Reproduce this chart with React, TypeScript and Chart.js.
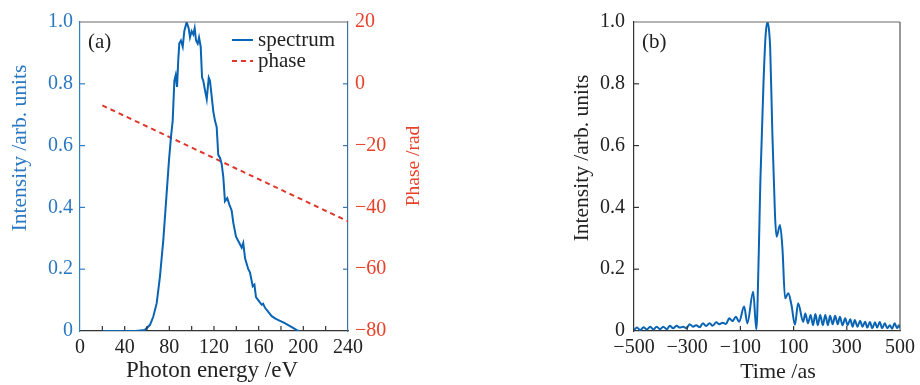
import React, { useEffect, useRef } from "react";
import { Chart, registerables } from "chart.js";

Chart.register(...registerables);

// ---------- data: panel (a) ----------
const energyEV = [
  20, 40, 50, 58, 62.7, 65.6, 68.7, 71.6, 74.6, 77.6,
  79.7, 81.5, 83.0, 84.5, 85.7, 86.9, 88.0, 88.9, 90.4, 92.0,
  93.4, 95.5, 97.3, 98.5, 100.0, 101.5, 102.7, 103.9, 105.4, 106.6,
  108.1, 109.3, 110.4, 111.9, 113.5, 115.3, 116.4, 117.9, 119.4, 120.9,
  122.4, 123.8, 125.4, 126.9, 128.3, 129.8, 131.9, 133.7, 135.8, 137.3,
  139.7, 142.7, 144.8, 146.2, 147.8, 150.7, 152.2, 154.7, 156.2, 157.6,
  160.6, 162.7, 164.0, 165.7, 168.6, 171.7, 175, 179.1, 183, 186.5,
  190, 194.1, 196,
];
const spectrumIntensity = [
  0, 0, 0, 0.003, 0.02, 0.046, 0.09, 0.176, 0.294, 0.446,
  0.553, 0.629, 0.68, 0.81, 0.828, 0.79, 0.877, 0.93, 0.94, 0.92,
  0.97, 1.0, 0.98, 0.95, 0.97, 0.96, 0.98, 0.94, 0.93, 0.95,
  0.92, 0.82, 0.81, 0.78, 0.75, 0.82, 0.81, 0.76, 0.71, 0.68,
  0.66, 0.57, 0.56, 0.54, 0.5, 0.42, 0.43, 0.41, 0.39, 0.35,
  0.305, 0.285, 0.27, 0.285, 0.235, 0.2, 0.19, 0.145, 0.15, 0.11,
  0.095, 0.085, 0.088, 0.075, 0.062, 0.048, 0.04, 0.033, 0.026, 0.019,
  0.012, 0.003, 0,
];
const phaseEnergyEV = [20, 240];
const phaseRad = [-7, -44.5];

const energyTickMarks = [0, 20, 40, 60, 80, 100, 120, 140, 160, 180, 200, 220, 240];
const energyTickLabels = [0, 40, 80, 120, 160, 200, 240];
const intensityTicks = [0, 0.2, 0.4, 0.6, 0.8, 1.0];
const phaseTicks = [-80, -60, -40, -20, 0, 20];

// ---------- data: panel (b) ----------
const timeAs = [
  -500, -489, -476, -464, -452, -439, -427, -415, -402, -390,
  -377, -365, -353, -340, -328, -315, -303, -291, -278, -266,
  -253, -241, -229, -216, -204, -191, -179, -167, -154, -142,
  -130, -117, -105, -86, -74, -52, -40, -31, -25, -13,
  -5, 2, 8, 12, 20, 30, 36, 49, 58, 68,
  80, 92, 105, 117, 136, 144, 154, 164, 173, 182,
  191, 200, 210, 219, 229, 237, 247, 256, 266, 274,
  284, 294, 303, 313, 322, 330, 340, 350, 359, 369,
  377, 387, 396, 406, 414, 424, 433, 443, 452, 462,
  470, 480, 489, 496, 500,
];
const pulseIntensity = [
  0.003, 0.011, 0.003, 0.012, 0.005, 0.014, 0.005, 0.014, 0.006, 0.014,
  0.006, 0.017, 0.009, 0.017, 0.011, 0.014, 0.009, 0.022, 0.014, 0.019,
  0.012, 0.025, 0.016, 0.025, 0.017, 0.028, 0.022, 0.027, 0.023, 0.041,
  0.032, 0.046, 0.03, 0.079, 0.025, 0.127, 0.005, 0.25, 0.483, 0.807,
  0.96, 1.0, 0.97, 0.915, 0.645, 0.376, 0.305, 0.343, 0.268, 0.106,
  0.122, 0.084, 0.02, 0.09, 0.03, 0.057, 0.025, 0.052, 0.019, 0.055,
  0.019, 0.052, 0.019, 0.052, 0.019, 0.049, 0.022, 0.049, 0.022, 0.046,
  0.019, 0.041, 0.019, 0.038, 0.014, 0.036, 0.014, 0.033, 0.014, 0.03,
  0.011, 0.029, 0.009, 0.028, 0.011, 0.029, 0.009, 0.025, 0.009, 0.019,
  0.007, 0.025, 0.009, 0.019, 0.01,
];
const timeTicks = [-500, -300, -100, 100, 300, 500];

// ---------- styles ----------
const SERIF = "'Liberation Serif', 'Times New Roman', serif";
const TICK_FONT = { family: SERIF, size: 20 };
const BLUE_LINE = "#0a64b4";
const BLUE_TEXT = "#2b78c2";
const BLUE_AXIS = "#2f7fc8";
const STEEL_AXIS = "#3b75a8";
const RED = "#e8412a";
const RED_LINE = "#e0362a";
const DARK = "#222222";
const GRAY = "#6a6a6a";

const minus = (v: number) => (v < 0 ? "\u2212" + Math.abs(v) : String(v));
const fmtInt = (v: number) => (v === 0 ? "0" : Number(v).toFixed(1));

type TickSpec = { id: string; color: string; side: "bottom" | "left" | "right" };
type TitleSpec = { text: string; x: number; y: number; size: number; color: string; vertical: boolean };

function makeFramePlugin(cfg: {
  top: string;
  right?: string;
  ticks: TickSpec[];
  titles: TitleSpec[];
  panel: string;
  legend?: boolean;
}) {
  return {
    id: "frame",
    afterDraw(chart: any) {
      const { ctx, chartArea: a } = chart;
      const len = 5;
      ctx.save();
      ctx.lineWidth = 1.2;
      const seg = (x1: number, y1: number, x2: number, y2: number) => {
        ctx.beginPath();
        ctx.moveTo(x1, y1);
        ctx.lineTo(x2, y2);
        ctx.stroke();
      };
      ctx.strokeStyle = cfg.top;
      seg(a.left, a.top, a.right, a.top);
      if (cfg.right) {
        ctx.strokeStyle = cfg.right;
        seg(a.right, a.top, a.right, a.bottom);
      }
      for (const t of cfg.ticks) {
        const s = chart.scales[t.id];
        ctx.strokeStyle = t.color;
        for (const tk of s.ticks) {
          const p = s.getPixelForValue(tk.value);
          if (t.side === "bottom") {
            if (p <= a.left + 1 || p >= a.right - 1) continue;
            seg(p, a.bottom, p, a.bottom - len);
          } else if (t.side === "left") {
            if (p <= a.top + 1 || p >= a.bottom - 1) continue;
            seg(a.left, p, a.left + len, p);
          } else {
            if (p <= a.top + 1 || p >= a.bottom - 1) continue;
            seg(a.right, p, a.right - len, p);
          }
        }
      }
      // axis titles
      for (const t of cfg.titles) {
        ctx.save();
        ctx.fillStyle = t.color;
        ctx.font = `${t.size}px ${SERIF}`;
        ctx.textAlign = "center";
        ctx.translate(t.x, t.y);
        if (t.vertical) {
          ctx.rotate(-Math.PI / 2);
          ctx.textBaseline = "middle";
        } else {
          ctx.textBaseline = "alphabetic";
        }
        ctx.fillText(t.text, 0, 0);
        ctx.restore();
      }
      // panel label
      ctx.fillStyle = DARK;
      ctx.font = `21px ${SERIF}`;
      ctx.textBaseline = "middle";
      ctx.textAlign = "left";
      ctx.fillText(cfg.panel, a.left + 8, a.top + 20);
      if (cfg.legend) {
        const lx = a.right - 116;
        const tx = a.right - 90;
        const y1 = a.top + 18;
        const y2 = a.top + 39;
        ctx.lineWidth = 2;
        ctx.strokeStyle = BLUE_LINE;
        seg(lx, y1, lx + 21, y1);
        ctx.strokeStyle = RED_LINE;
        ctx.setLineDash([5, 4]);
        seg(lx, y2, lx + 21, y2);
        ctx.setLineDash([]);
        ctx.fillStyle = DARK;
        ctx.font = `21px ${SERIF}`;
        ctx.fillText("spectrum", tx, y1);
        ctx.fillText("phase", tx, y2);
      }
      ctx.restore();
    },
  };
}

const noGrid = { drawOnChartArea: false, drawTicks: false };

function configA(): any {
  return {
    type: "line",
    data: {
      datasets: [
        {
          label: "spectrum",
          data: energyEV.map((e, i) => ({ x: e, y: spectrumIntensity[i] })),
          borderColor: BLUE_LINE,
          borderWidth: 2,
          pointRadius: 0,
          tension: 0,
          yAxisID: "y",
        },
        {
          label: "phase",
          data: phaseEnergyEV.map((e, i) => ({ x: e, y: phaseRad[i] })),
          borderColor: RED_LINE,
          borderWidth: 2,
          borderDash: [5, 4],
          pointRadius: 0,
          yAxisID: "y2",
        },
      ],
    },
    options: {
      responsive: false,
      animation: false,
      layout: { padding: { top: 22, left: 0, right: 0, bottom: 0 } },
      plugins: { legend: { display: false }, tooltip: { enabled: false } },
      scales: {
        x: {
          type: "linear",
          min: 0,
          max: 240,
          afterBuildTicks: (s: any) => {
            s.ticks = energyTickMarks.map((v) => ({ value: v }));
          },
          afterFit: (s: any) => {
            s.height = 54;
          },
          ticks: {
            autoSkip: false,
            maxRotation: 0,
            font: TICK_FONT,
            color: DARK,
            padding: 5,
            callback: (v: any) => (energyTickLabels.includes(Number(v)) ? String(v) : ""),
          },
          grid: noGrid,
          border: { color: "#333", width: 1.2 },
        },
        y: {
          position: "left",
          min: 0,
          max: 1,
          afterBuildTicks: (s: any) => {
            s.ticks = intensityTicks.map((v) => ({ value: v }));
          },
          afterFit: (s: any) => {
            s.width = 80;
          },
          ticks: { font: TICK_FONT, color: BLUE_TEXT, padding: 7, callback: (v: any) => fmtInt(Number(v)) },
          grid: noGrid,
          border: { color: BLUE_AXIS, width: 1.2 },
        },
        y2: {
          position: "right",
          min: -80,
          max: 20,
          afterBuildTicks: (s: any) => {
            s.ticks = phaseTicks.map((v) => ({ value: v }));
          },
          afterFit: (s: any) => {
            s.width = 92;
          },
          ticks: { font: TICK_FONT, color: RED, padding: 7, callback: (v: any) => minus(Number(v)) },
          grid: noGrid,
          border: { color: STEEL_AXIS, width: 1.2 },
        },
      },
    },
    plugins: [
      makeFramePlugin({
        top: GRAY,
        ticks: [
          { id: "x", color: "#333", side: "bottom" },
          { id: "y", color: BLUE_AXIS, side: "left" },
          { id: "y2", color: STEEL_AXIS, side: "right" },
        ],
        titles: [
          { text: "Photon energy /eV", x: 212, y: 377, size: 23, color: DARK, vertical: false },
          { text: "Intensity /arb. units", x: 20, y: 148, size: 21.5, color: BLUE_TEXT, vertical: true },
          { text: "Phase /rad", x: 414, y: 166, size: 19.5, color: RED, vertical: true },
        ],
        panel: "(a)",
        legend: true,
      }),
    ],
  };
}

function configB(): any {
  return {
    type: "line",
    data: {
      datasets: [
        {
          label: "pulse",
          data: timeAs.map((t, i) => ({ x: t, y: pulseIntensity[i] })),
          borderColor: BLUE_LINE,
          borderWidth: 2,
          pointRadius: 0,
          cubicInterpolationMode: "monotone",
        },
      ],
    },
    options: {
      responsive: false,
      animation: false,
      layout: { padding: { top: 22, left: 0, right: 17, bottom: 0 } },
      plugins: { legend: { display: false }, tooltip: { enabled: false } },
      scales: {
        x: {
          type: "linear",
          min: -500,
          max: 500,
          afterBuildTicks: (s: any) => {
            s.ticks = timeTicks.map((v) => ({ value: v }));
          },
          afterFit: (s: any) => {
            s.height = 54;
          },
          ticks: {
            autoSkip: false,
            maxRotation: 0,
            font: TICK_FONT,
            color: DARK,
            padding: 5,
            callback: (v: any) => minus(Number(v)),
          },
          grid: noGrid,
          border: { color: "#333", width: 1.2 },
        },
        y: {
          position: "left",
          min: 0,
          max: 1,
          afterBuildTicks: (s: any) => {
            s.ticks = intensityTicks.map((v) => ({ value: v }));
          },
          afterFit: (s: any) => {
            s.width = 94;
          },
          ticks: { font: TICK_FONT, color: DARK, padding: 9, callback: (v: any) => fmtInt(Number(v)) },
          grid: noGrid,
          border: { color: "#333", width: 1.2 },
        },
      },
    },
    plugins: [
      makeFramePlugin({
        top: GRAY,
        right: "#555",
        ticks: [
          { id: "x", color: "#333", side: "bottom" },
          { id: "y", color: "#333", side: "left" },
        ],
        titles: [
          { text: "Time /as", x: 238, y: 378, size: 22, color: DARK, vertical: false },
          { text: "Intensity /arb. units", x: 42, y: 158, size: 21.5, color: DARK, vertical: true },
        ],
        panel: "(b)",
      }),
    ],
  };
}

export default function App() {
  const refA = useRef<HTMLCanvasElement>(null);
  const refB = useRef<HTMLCanvasElement>(null);

  useEffect(() => {
    const a = new Chart(refA.current as HTMLCanvasElement, configA());
    const b = new Chart(refB.current as HTMLCanvasElement, configB());
    return () => {
      a.destroy();
      b.destroy();
    };
  }, []);

  return (
    <div
      style={{
        position: "fixed",
        left: 0,
        top: 0,
        width: 920,
        height: 385,
        background: "#ffffff",
        overflow: "hidden",
      }}
    >
      <canvas
        ref={refA}
        width={440}
        height={385}
        style={{ position: "absolute", left: 0, top: 0 }}
      />
      <canvas
        ref={refB}
        width={380}
        height={385}
        style={{ position: "absolute", left: 540, top: 0 }}
      />
    </div>
  );
}
